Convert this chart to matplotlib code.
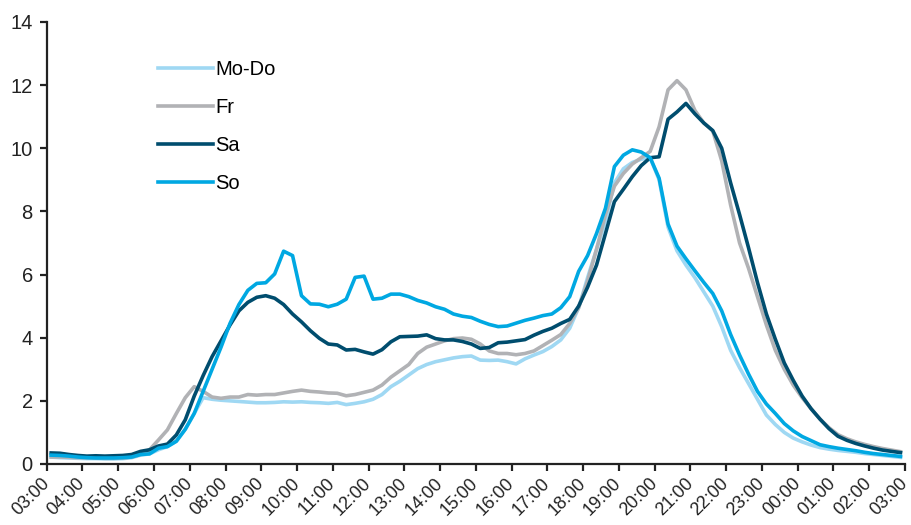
import numpy as np
import matplotlib.pyplot as plt

# Viertelstundenwerte 03:00 - 03:00 (Mitte der Intervalle)
zeit = 3.125 + 0.25 * np.arange(96)

mo_do = [0.22, 0.20, 0.19, 0.18, 0.17, 0.17, 0.16, 0.16, 0.17, 0.20,
         0.28, 0.32, 0.45, 0.55, 0.72, 1.10, 1.60, 2.10, 2.05, 2.02,
         2.00, 1.98, 1.96, 1.94, 1.94, 1.95, 1.97, 1.96, 1.97, 1.95,
         1.94, 1.92, 1.95, 1.88, 1.92, 1.97, 2.05, 2.20, 2.45, 2.62,
         2.82, 3.02, 3.15, 3.24, 3.30, 3.36, 3.40, 3.42, 3.29, 3.28,
         3.29, 3.24, 3.17, 3.33, 3.45, 3.56, 3.72, 3.93, 4.30, 4.95,
         5.90, 6.80, 7.70, 8.90, 9.35, 9.55, 9.65, 9.70, 9.00, 7.50,
         6.75, 6.30, 5.90, 5.45, 5.00, 4.35, 3.60, 3.05, 2.55, 2.05,
         1.55, 1.25, 1.00, 0.82, 0.70, 0.60, 0.52, 0.47, 0.43, 0.40,
         0.37, 0.33, 0.30, 0.27, 0.24, 0.21]

fr = [0.22, 0.22, 0.21, 0.20, 0.20, 0.19, 0.18, 0.18, 0.19, 0.22,
      0.30, 0.45, 0.76, 1.08, 1.60, 2.10, 2.45, 2.30, 2.12, 2.08,
      2.12, 2.12, 2.20, 2.18, 2.20, 2.20, 2.25, 2.30, 2.34, 2.30,
      2.28, 2.25, 2.24, 2.16, 2.20, 2.27, 2.34, 2.50, 2.75, 2.95,
      3.15, 3.50, 3.70, 3.80, 3.90, 3.97, 3.99, 3.95, 3.80, 3.58,
      3.50, 3.50, 3.46, 3.50, 3.58, 3.75, 3.92, 4.10, 4.45, 4.95,
      5.80, 6.80, 7.90, 8.80, 9.20, 9.50, 9.70, 9.90, 10.68, 11.85,
      12.14, 11.85, 11.20, 10.80, 10.55, 9.60, 8.20, 7.00, 6.20, 5.30,
      4.40, 3.60, 3.00, 2.50, 2.10, 1.75, 1.42, 1.15, 0.93, 0.80,
      0.70, 0.62, 0.55, 0.49, 0.44, 0.39]

sa = [0.35, 0.34, 0.30, 0.27, 0.25, 0.26, 0.25, 0.26, 0.27, 0.30,
      0.40, 0.45, 0.57, 0.63, 0.92, 1.40, 2.15, 2.80, 3.40, 3.90,
      4.40, 4.85, 5.12, 5.28, 5.33, 5.25, 5.05, 4.75, 4.50, 4.22,
      3.98, 3.80, 3.77, 3.61, 3.63, 3.55, 3.48, 3.62, 3.87, 4.03,
      4.04, 4.05, 4.09, 3.97, 3.93, 3.93, 3.88, 3.80, 3.66, 3.69,
      3.84, 3.86, 3.90, 3.94, 4.08, 4.20, 4.30, 4.45, 4.58, 5.00,
      5.60, 6.30, 7.30, 8.31, 8.70, 9.10, 9.45, 9.70, 9.73, 10.92,
      11.15, 11.42, 11.09, 10.80, 10.56, 10.00, 8.90, 7.90, 6.85, 5.75,
      4.75, 3.95, 3.20, 2.65, 2.15, 1.75, 1.42, 1.12, 0.88, 0.75,
      0.65, 0.57, 0.50, 0.44, 0.40, 0.36]

so = [0.28, 0.27, 0.25, 0.22, 0.20, 0.19, 0.19, 0.19, 0.20, 0.22,
      0.30, 0.32, 0.50, 0.55, 0.72, 1.10, 1.60, 2.30, 3.00, 3.70,
      4.45, 5.05, 5.50, 5.72, 5.74, 6.02, 6.74, 6.60, 5.33, 5.07,
      5.06, 4.98, 5.06, 5.22, 5.91, 5.95, 5.22, 5.25, 5.38, 5.38,
      5.30, 5.18, 5.10, 4.98, 4.90, 4.75, 4.68, 4.64, 4.52, 4.42,
      4.35, 4.37, 4.46, 4.55, 4.62, 4.70, 4.75, 4.95, 5.30, 6.10,
      6.60, 7.30, 8.10, 9.42, 9.78, 9.95, 9.88, 9.70, 9.05, 7.60,
      6.90, 6.50, 6.12, 5.75, 5.40, 4.85, 4.10, 3.45, 2.85, 2.30,
      1.90, 1.60, 1.28, 1.05, 0.87, 0.74, 0.61, 0.55, 0.50, 0.46,
      0.42, 0.37, 0.33, 0.30, 0.27, 0.24]

tick_pos = np.arange(3, 28)
tick_labels = ['%02d:00' % (h % 24) for h in tick_pos]

plt.rcParams['font.family'] = ['Liberation Sans Narrow', 'Liberation Sans', 'DejaVu Sans']

fig = plt.figure(figsize=(9.12, 5.25), dpi=100)
ax = fig.add_axes([0.0512, 0.1162, 0.9411, 0.842])

lw = 2.6
ax.plot(zeit, mo_do, color='#9fd8f3', lw=lw, label='Mo-Do')
ax.plot(zeit, fr, color='#b1b2b5', lw=lw, label='Fr')
ax.plot(zeit, sa, color='#004d6e', lw=lw, label='Sa')
ax.plot(zeit, so, color='#00a8e2', lw=lw, label='So')

ax.set_xlim(3, 27)
ax.set_ylim(0, 14)
ax.set_yticks(np.arange(0, 15, 2))
ax.set_xticks(tick_pos)
ax.set_xticklabels(tick_labels, rotation=45, ha='right', va='center',
                   rotation_mode='anchor')

for s in ['top', 'right']:
    ax.spines[s].set_visible(False)
for s in ['left', 'bottom']:
    ax.spines[s].set_color('#222222')
    ax.spines[s].set_linewidth(1.6)
ax.tick_params(axis='both', colors='#222222', width=1.6, length=5)
ax.tick_params(axis='x', pad=7, labelsize=13)
ax.tick_params(axis='y', pad=5, labelsize=14.5)

ax.legend(loc='upper left', bbox_to_anchor=(0.108, 0.955), frameon=False,
          fontsize=14.5, handlelength=2.75, handletextpad=0.1, labelspacing=0.95)

fig.savefig('out.png', dpi=100)
